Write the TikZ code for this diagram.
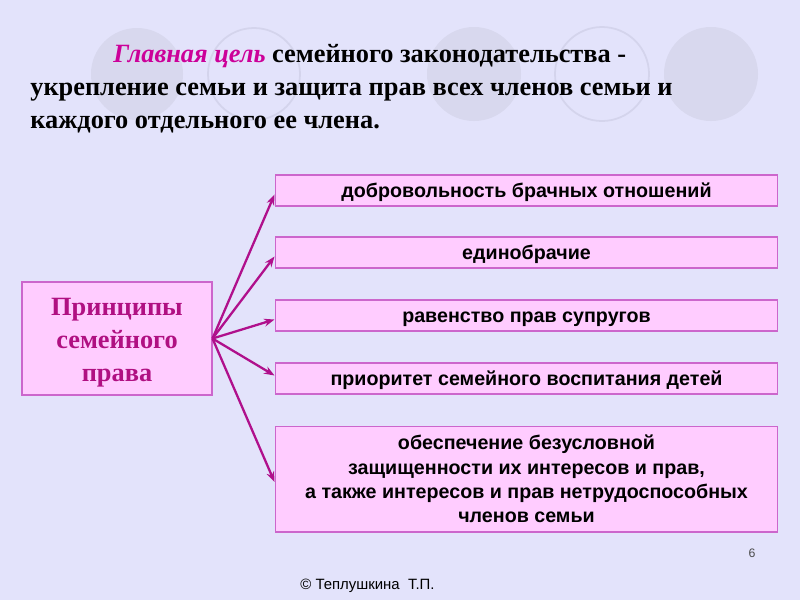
\documentclass[tikz,border=0pt]{standalone}
\usepackage{fontspec}
\setmainfont{Liberation Serif}
\newfontfamily\arialf{Liberation Sans}
\usetikzlibrary{arrows.meta,calc}
\definecolor{bgc}{RGB}{227,227,251}
\definecolor{circf}{RGB}{216,216,238}
\definecolor{circd}{RGB}{212,212,236}
\definecolor{boxf}{RGB}{255,204,255}
\definecolor{bordc}{RGB}{204,102,204}
\definecolor{magt}{RGB}{204,0,153}
\definecolor{magd}{RGB}{176,16,130}
\definecolor{arrc}{RGB}{176,16,140}
\begin{document}
\begin{tikzpicture}[x=0.02cm,y=-0.02cm,
  titlefont/.style={font=\bfseries\fontsize{15}{16}\selectfont, inner sep=0, anchor=base west},
  rbox/.style={draw=bordc, fill=boxf, line width=0.6pt, minimum width=10.06cm, minimum height=0.62cm, inner sep=0pt, align=center, font=\arialf\bfseries\fontsize{11.2}{13.9}\selectfont},
  onel/.style={text height=8.2pt, text depth=0pt},
  lbox/.style={draw=bordc, fill=boxf, line width=0.6pt, minimum width=3.8cm, minimum height=2.26cm, inner sep=0pt},
  ltext/.style={align=center, text=magd, inner sep=0pt, font=\bfseries\fontsize{15}{18.7}\selectfont},
  conn/.style={draw=arrc, line width=1.3pt, -{Stealth[length=6pt,width=4.5pt]}},
  fcirc/.style={fill=circf},
  ocirc/.style={draw=circd, line width=1pt}
]
\useasboundingbox[fill=bgc] (0,0) rectangle (800,600);
% background circles
\fill[fcirc] (137,74) circle [radius=46];
\draw[ocirc] (254,74) circle [radius=46];
\fill[fcirc] (474,74) circle [radius=47];
\draw[ocirc] (602,74) circle [radius=47];
\fill[fcirc] (711,74) circle [radius=47];
% title
\node[titlefont] (t1) at (113,62) {\textcolor{magt}{\itshape Главная цель} семейного законодательства -};
\node[titlefont] (t2) at (30,95) {укрепление семьи и защита прав всех членов семьи и};
\node[titlefont] (t3) at (30,128) {каждого отдельного ее члена.};
% left box
\node[lbox] (p) at (117,338.5) {};
\node[ltext] (pt) at (117,342.5) {Принципы\\ семейного\\ права};
% right boxes
\node[rbox,onel] (b1) at (526.5,190.5) {добровольность брачных отношений};
\node[rbox,onel] (b2) at (526.5,252.5) {единобрачие};
\node[rbox,onel] (b3) at (526.5,315.5) {равенство прав супругов};
\node[rbox,onel] (b4) at (526.5,378.5) {приоритет семейного воспитания детей};
\node[rbox, minimum height=2.12cm] (b5) at (526.5,479) {обеспечение безусловной\\ защищенности их интересов и прав,\\ а также интересов и прав нетрудоспособных\\ членов семьи};
% connectors
\coordinate (o) at ($(p.east)$);
\draw[conn] (o) -- ($(b1.west)+(0,4)$);
\draw[conn] (o) -- ($(b2.west)+(0,4)$);
\draw[conn] (o) -- ($(b3.west)+(0,4)$);
\draw[conn] (o) -- ($(b4.west)+(0,-3)$);
\draw[conn] (o) -- ($(b5.west)+(0,3)$);
% footer
\node[font=\arialf\fontsize{7}{8}\selectfont, text=black!70, inner sep=0] (pg) at (752,553) {6};
\node[font=\arialf\fontsize{8.5}{10}\selectfont, inner sep=0, anchor=base west] (cp) at (300,589) {© Теплушкина~~Т.П.};
\end{tikzpicture}
\end{document}
